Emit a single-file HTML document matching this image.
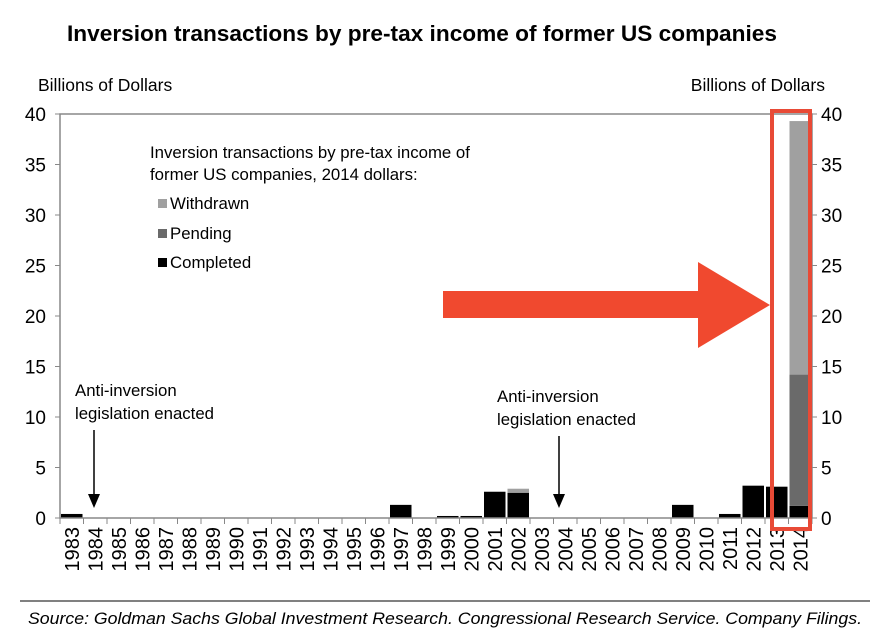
<!DOCTYPE html>
<html><head><meta charset="utf-8"><style>
body{margin:0;background:#fff;width:889px;height:634px;overflow:hidden;font-family:"Liberation Sans",sans-serif}
</style></head><body>
<svg width="889" height="634" viewBox="0 0 889 634" font-family="Liberation Sans, sans-serif">
<text x="67" y="41" textLength="710" lengthAdjust="spacingAndGlyphs" font-size="22" font-weight="bold">Inversion transactions by pre-tax income of former US companies</text>
<text x="38" y="91" font-size="17.5">Billions of Dollars</text>
<text x="825" y="91" text-anchor="end" font-size="17.5">Billions of Dollars</text>
<g id="bars"></g>
<g id="axes"></g>
<text x="150" y="158" font-size="16.8"><tspan x="150">Inversion transactions by pre-tax income of</tspan><tspan x="150" dy="22">former US companies, 2014 dollars:</tspan></text>
<rect x="158" y="199" width="9" height="9" fill="#a0a0a0"/>
<text x="170" y="209" font-size="16.8">Withdrawn</text>
<rect x="158" y="229" width="9" height="9" fill="#6a6a6a"/>
<text x="170" y="239" font-size="16.8">Pending</text>
<rect x="158" y="258" width="9" height="9" fill="#000"/>
<text x="170" y="268" font-size="16.8">Completed</text>
<text font-size="16.8"><tspan x="75" y="396">Anti-inversion</tspan><tspan x="75" y="419">legislation enacted</tspan></text>
<line x1="94" y1="430" x2="94" y2="496" stroke="#000" stroke-width="1.5"/>
<polygon points="88,494 100,494 94,508" fill="#000"/>
<text font-size="16.8"><tspan x="497" y="402">Anti-inversion</tspan><tspan x="497" y="425">legislation enacted</tspan></text>
<line x1="559" y1="436" x2="559" y2="496" stroke="#000" stroke-width="1.5"/>
<polygon points="553,494 565,494 559,508" fill="#000"/>
<polygon points="443,291 698,291 698,262 770,305 698,348 698,318 443,318" fill="#f0492f"/>
<rect x="772" y="111" width="38" height="418" fill="none" stroke="#e84a36" stroke-width="4"/>
<line x1="20" y1="601" x2="870" y2="601" stroke="#000" stroke-width="1"/>
<text x="28" y="624" textLength="834" lengthAdjust="spacingAndGlyphs" font-size="17" font-style="italic">Source: Goldman Sachs Global Investment Research. Congressional Research Service. Company Filings.</text>
</svg>
<script>
const years=[1983,1984,1985,1986,1987,1988,1989,1990,1991,1992,1993,1994,1995,1996,1997,1998,1999,2000,2001,2002,2003,2004,2005,2006,2007,2008,2009,2010,2011,2012,2013,2014];
const completed=[0.4,0,0,0,0,0,0,0,0,0,0,0,0,0,1.3,0,0.2,0.2,2.6,2.5,0,0,0,0,0.05,0,1.3,0,0.4,3.2,3.1,1.2];
const pending=[0,0,0,0,0,0,0,0,0,0,0,0,0,0,0,0,0,0,0,0,0,0,0,0,0,0,0,0,0,0,0,13];
const withdrawn=[0,0,0,0,0,0,0,0,0,0,0,0,0,0,0,0,0,0,0,0.4,0,0,0,0,0,0,0,0,0,0,0,25.1];
const ticks=[0,5,10,15,20,25,30,35,40];
const X0=60,X1=812,Y0=518,Y1=114,NS='http://www.w3.org/2000/svg';
const bw=(X1-X0)/years.length;
const y=v=>Y0-(v/40)*(Y0-Y1);
const xc=i=>X0+bw*(i+0.5);
const bars=document.getElementById('bars'),axes=document.getElementById('axes');
function mk(tag,at,parent){const e=document.createElementNS(NS,tag);for(const k in at)e.setAttribute(k,at[k]);parent.appendChild(e);return e;}
years.forEach((yr,i)=>{
  let base=0;
  [[completed,'#000','completed'],[pending,'#6a6a6a','pending'],[withdrawn,'#a0a0a0','withdrawn']].forEach(([arr,col,nm])=>{
    const v=arr[i];if(v<=0)return;
    const r=mk('rect',{x:xc(i)-bw/2+1,y:y(base+v),width:bw-2,height:y(base)-y(base+v),fill:col},bars);
    
    
    base+=v;
  });
  const t=mk('text',{x:0,y:0,transform:`translate(${xc(i)+7},${527}) rotate(-90)`,'text-anchor':'end','font-size':'20'},axes);
  t.textContent=yr;
  
  
  mk('line',{x1:X0+bw*i,x2:X0+bw*i,y1:Y0,y2:Y0+6,stroke:'#888'},axes);
});
mk('line',{x1:X1,x2:X1,y1:Y0,y2:Y0+6,stroke:'#888'},axes);
const frame=mk('rect',{x:X0,y:Y1,width:X1-X0,height:Y0-Y1,fill:'none',stroke:'#888','stroke-width':1.5},axes);


ticks.forEach(v=>{
  mk('line',{x1:X0-5,x2:X0,y1:y(v),y2:y(v),stroke:'#888'},axes);
  mk('line',{x1:X1,x2:X1+5,y1:y(v),y2:y(v),stroke:'#888'},axes);
  const l=mk('text',{x:X0-14,y:y(v)+7,'text-anchor':'end','font-size':'19'},axes);l.textContent=v;
  
  
  const r=mk('text',{x:X1+9,y:y(v)+7,'font-size':'19'},axes);r.textContent=v;
  
  
});
</script>
</body></html>
